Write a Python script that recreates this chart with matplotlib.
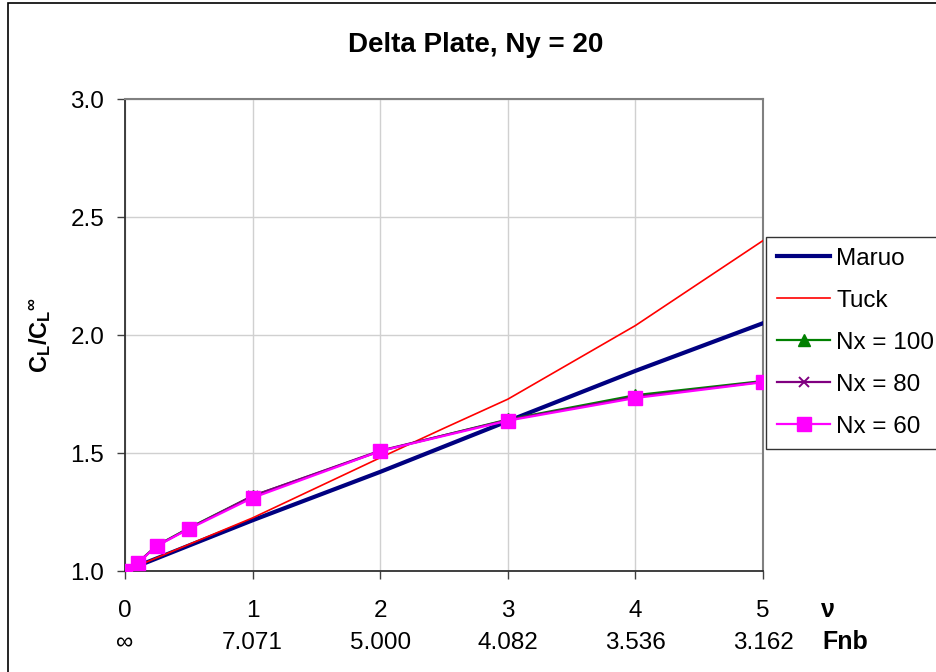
import matplotlib
matplotlib.use("Agg")
import matplotlib.pyplot as plt
from matplotlib.patches import Rectangle

plt.rcParams['font.family'] = ['Liberation Sans', 'DejaVu Sans']
plt.rcParams['mathtext.fontset'] = 'custom'
plt.rcParams['mathtext.rm'] = 'Liberation Sans:bold'
plt.rcParams['mathtext.bf'] = 'Liberation Sans:bold'
plt.rcParams['mathtext.it'] = 'Liberation Sans:bold'

# ---- data ----
maruo_x = [0, 1, 2, 3, 4, 5]
maruo_y = [1.0, 1.215, 1.42, 1.635, 1.848, 2.05]

tuck_x = [0, 1, 2, 2.5, 3, 4, 5]
tuck_y = [1.0, 1.225, 1.48, 1.605, 1.728, 2.04, 2.40]

nu = [0, 0.1, 0.25, 0.5, 1, 2, 3, 4, 5]
nx100 = [1.0, 1.035, 1.108, 1.182, 1.318, 1.508, 1.642, 1.745, 1.805]
nx80 = [1.0, 1.035, 1.108, 1.180, 1.318, 1.510, 1.640, 1.738, 1.802]
nx60 = [1.0, 1.034, 1.106, 1.178, 1.310, 1.508, 1.637, 1.733, 1.800]

xticks = [0, 1, 2, 3, 4, 5]
fnb_labels = ["\u221e", "7.071", "5.000", "4.082", "3.536", "3.162"]
yticks = [1.0, 1.5, 2.0, 2.5, 3.0]

FS = 17.5

fig = plt.figure(figsize=(9.36, 6.72), dpi=100)
fig.patches.append(Rectangle((8/936, -0.01), 1.0, 1 - 3/672 + 0.01,
                             transform=fig.transFigure, fill=False,
                             edgecolor='black', linewidth=1.2, zorder=0))

ax = fig.add_axes([125/936, 1 - 571/672, (763 - 125)/936, (571 - 99)/672])

ax.plot(maruo_x, maruo_y, color='#000080', linewidth=3.0, label='Maruo', zorder=3)
ax.plot(tuck_x, tuck_y, color='#ff0000', linewidth=1.2, label='Tuck', zorder=3)
ax.plot(nu, nx100, color='#008000', linewidth=1.6, marker='^', markersize=9,
        label='Nx = 100', zorder=4)
ax.plot(nu, nx80, color='#800080', linewidth=1.6, marker='x', markersize=7,
        markeredgewidth=1.4, label='Nx = 80', zorder=5)
ax.plot(nu, nx60, color='#ff00ff', linewidth=1.6, marker='s', markersize=9.5,
        label='Nx = 60', zorder=6)

ax.set_xlim(0, 5)
ax.set_ylim(1.0, 3.0)
ax.set_xticks(xticks)
ax.set_xticklabels([f"{v}\n{f}" for v, f in zip(xticks, fnb_labels)],
                   linespacing=1.6)
ax.set_yticks(yticks)
ax.set_yticklabels([f"{v:.1f}" for v in yticks])
ax.tick_params(axis='both', labelsize=FS, direction='out', length=6,
               width=1, color='#404040')
ax.tick_params(axis='x', pad=15)
ax.tick_params(axis='y', pad=9)
ax.grid(True, color='#d0d0d0', linewidth=1)
ax.set_axisbelow(True)
for s in ['top', 'right']:
    ax.spines[s].set_color('#808080')
    ax.spines[s].set_linewidth(1.5)
for s in ['left', 'bottom']:
    ax.spines[s].set_color('#303030')
    ax.spines[s].set_linewidth(1.3)

fig.text(476/936, 1 - 45/672, "Delta Plate, Ny = 20", ha='center', va='center',
         fontsize=20, fontweight='bold')
fig.text(40/936, 1 - 335/672, r"C$_L$/C$_L$$^{\infty}$", rotation=90,
         ha='center', va='center', fontsize=17, fontweight='bold')
fig.text(828/936, 1 - 610/672, "\u03bd", ha='center', va='center',
         fontsize=18, fontweight='bold')
fig.text(845/936, 1 - 642/672, "Fnb", ha='center', va='center',
         fontsize=18, fontweight='bold')

leg = ax.legend(loc='upper left', bbox_to_anchor=(766/936, 1 - 237/672),
                bbox_transform=fig.transFigure, fontsize=FS, frameon=True,
                fancybox=False, edgecolor='black', handlelength=2.2,
                handletextpad=0.25, labelspacing=0.82, borderpad=0.45,
                borderaxespad=0)
leg.get_frame().set_linewidth(1.0)

fig.savefig("out.png", dpi=100)
